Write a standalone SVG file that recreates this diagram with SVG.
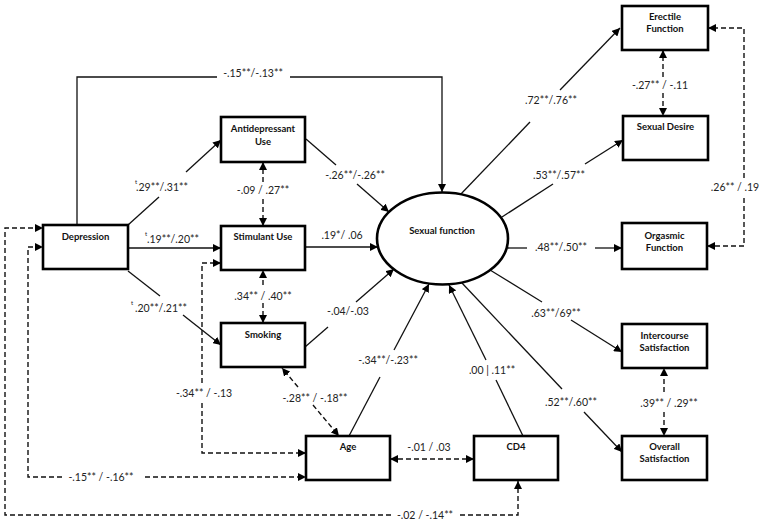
<svg xmlns="http://www.w3.org/2000/svg" width="761" height="525" viewBox="0 0 761 525">
<style>
.box{fill:#fff;stroke:#000;stroke-width:2.6}
.bl{font-family:Lato,"Liberation Sans",sans-serif;font-weight:bold;font-size:9.5px;fill:#111;text-anchor:middle}
.lb{font-family:Lato,"Liberation Sans",sans-serif;font-size:10.5px;fill:#222;text-anchor:middle}
.sup{font-family:Lato,"Liberation Sans",sans-serif;font-size:6px;fill:#222}
.s{fill:none;stroke:#111;stroke-width:1.3}
.d{fill:none;stroke:#111;stroke-width:1.4;stroke-dasharray:5 3}
</style>
<defs>
<marker id="a" viewBox="0 0 8 8" refX="8" refY="4" markerWidth="8" markerHeight="8" markerUnits="userSpaceOnUse" orient="auto-start-reverse">
<path d="M0,0 L8,4 L0,8 z" fill="#000"/>
</marker>
</defs>
<rect width="761" height="525" fill="#fff"/>
<g id="connectors">
<!-- solid paths -->
<path class="s" d="M77,225 V77 H217"/>
<path class="s" d="M290,77 H442 V192" marker-end="url(#a)"/>
<path class="s" d="M128,225 L159,197"/>
<path class="s" d="M186,172 L221,140" marker-end="url(#a)"/>
<path class="s" d="M128,248 H221" marker-end="url(#a)"/>
<path class="s" d="M128,271 L160,296"/>
<path class="s" d="M183,315 L221,345" marker-end="url(#a)"/>
<path class="s" d="M306,139 L336,165"/>
<path class="s" d="M357,184 L389,212" marker-end="url(#a)"/>
<path class="s" d="M305,247 H378" marker-end="url(#a)"/>
<path class="s" d="M305,347 L328,327"/>
<path class="s" d="M356,302 L394,269" marker-end="url(#a)"/>
<path class="s" d="M349,436 L380,377"/>
<path class="s" d="M394,350 L429,284" marker-end="url(#a)"/>
<path class="s" d="M523,436 L496,380"/>
<path class="s" d="M486,360 L449,285" marker-end="url(#a)"/>
<path class="s" d="M460,195 L530,122"/>
<path class="s" d="M560,90 L620,28" marker-end="url(#a)"/>
<path class="s" d="M502,217 L553,184"/>
<path class="s" d="M585,164 L623,140" marker-end="url(#a)"/>
<path class="s" d="M508,248 H527"/>
<path class="s" d="M595,248 H622" marker-end="url(#a)"/>
<path class="s" d="M490,270 L542,302"/>
<path class="s" d="M571,320 L622,352" marker-end="url(#a)"/>
<path class="s" d="M462,283 L562,389"/>
<path class="s" d="M584,412 L622,452" marker-end="url(#a)"/>
<!-- dashed paths -->
<path class="d" d="M263,182 V162" marker-end="url(#a)"/>
<path class="d" d="M263,199 V226" marker-end="url(#a)"/>
<path class="d" d="M263,285 V270" marker-end="url(#a)"/>
<path class="d" d="M263,303 V323" marker-end="url(#a)"/>
<path class="d" d="M298,387 L282,368" marker-end="url(#a)"/>
<path class="d" d="M313,405 L339,436" marker-end="url(#a)"/>
<path class="d" d="M202,383 V263 H221" marker-end="url(#a)"/>
<path class="d" d="M202,403 V453 H306" marker-end="url(#a)"/>
<path class="d" d="M62,477 H28 V247 H43" marker-end="url(#a)"/>
<path class="d" d="M145,477 H306" marker-end="url(#a)"/>
<path class="d" d="M391,515 H5 V228 H43" marker-end="url(#a)"/>
<path class="d" d="M460,515 H518 V481" marker-end="url(#a)"/>
<path class="d" d="M390,459 H474" marker-start="url(#a)" marker-end="url(#a)"/>
<path class="d" d="M663,77 V50" marker-end="url(#a)"/>
<path class="d" d="M663,93 V116" marker-end="url(#a)"/>
<path class="d" d="M744,178 V28 H708" marker-end="url(#a)"/>
<path class="d" d="M744,198 V246 H707" marker-end="url(#a)"/>
<path class="d" d="M664,392 V368" marker-end="url(#a)"/>
<path class="d" d="M664,412 V436" marker-end="url(#a)"/>
</g>
<g id="labels">
<text class="lb" x="253" y="77">-.15**/-.13**</text>
<text class="sup" x="135" y="184">t</text>
<text class="lb" x="162" y="191">.29**/.31**</text>
<text class="sup" x="145" y="236">t</text>
<text class="lb" x="173" y="243">.19**/.20**</text>
<text class="sup" x="131" y="305">t</text>
<text class="lb" x="161" y="312">.20**/.21**</text>
<text class="lb" x="355" y="179">-.26**/-.26**</text>
<text class="lb" x="263" y="194">-.09 / .27**</text>
<text class="lb" x="342" y="239">.19*/ .06</text>
<text class="lb" x="263" y="300">.34** / .40**</text>
<text class="lb" x="348" y="315">-.04/-.03</text>
<text class="lb" x="204" y="397">-.34** / -.13</text>
<text class="lb" x="315" y="402">-.28** / -.18**</text>
<text class="lb" x="388" y="364">-.34**/-.23**</text>
<text class="lb" x="492" y="374">.00 | .11**</text>
<text class="lb" x="429" y="451">-.01 / .03</text>
<text class="lb" x="101" y="481">-.15** / -.16**</text>
<text class="lb" x="425" y="519">-.02 / -.14**</text>
<text class="lb" x="551" y="104">.72**/.76**</text>
<text class="lb" x="559" y="179">.53**/.57**</text>
<text class="lb" x="561" y="251">.48**/.50**</text>
<text class="lb" x="556" y="317">.63**/69**</text>
<text class="lb" x="571" y="406">.52**/.60**</text>
<text class="lb" x="660" y="89">-.27** / -.11</text>
<text class="lb" x="735" y="191">.26** / .19</text>
<text class="lb" x="669" y="407">.39** / .29**</text>
</g>
<g id="depression"><rect class="box" x="43" y="225" width="85" height="44"/><text class="bl" x="85.5" y="240">Depression</text></g>
<g id="antidepressant"><rect class="box" x="221" y="117" width="84" height="45"/><text class="bl" x="263" y="132">Antidepressant</text><text class="bl" x="263" y="145">Use</text></g>
<g id="stimulant"><rect class="box" x="221" y="226" width="84" height="44"/><text class="bl" x="263" y="240">Stimulant Use</text></g>
<g id="smoking"><rect class="box" x="221" y="323" width="84" height="44"/><text class="bl" x="263" y="338">Smoking</text></g>
<g id="age"><rect class="box" x="306" y="436" width="84" height="44"/><text class="bl" x="348" y="450">Age</text></g>
<g id="cd4"><rect class="box" x="474" y="436" width="84" height="44"/><text class="bl" x="516" y="450">CD4</text></g>
<g id="sexual-function"><ellipse cx="442.5" cy="238.5" rx="65.5" ry="46" fill="#fff" stroke="#000" stroke-width="2.6"/><text class="bl" x="442" y="234">Sexual function</text></g>
<g id="erectile"><rect class="box" x="622" y="6" width="86" height="44"/><text class="bl" x="665" y="20">Erectile</text><text class="bl" x="665" y="32">Function</text></g>
<g id="desire"><rect class="box" x="623" y="116" width="85" height="44"/><text class="bl" x="665.5" y="130">Sexual Desire</text></g>
<g id="orgasmic"><rect class="box" x="622" y="223" width="85" height="46"/><text class="bl" x="664.5" y="239">Orgasmic</text><text class="bl" x="664.5" y="251">Function</text></g>
<g id="intercourse"><rect class="box" x="622" y="324" width="85" height="44"/><text class="bl" x="664.5" y="339">Intercourse</text><text class="bl" x="664.5" y="351">Satisfaction</text></g>
<g id="overall"><rect class="box" x="622" y="436" width="85" height="44"/><text class="bl" x="664.5" y="450">Overall</text><text class="bl" x="664.5" y="462">Satisfaction</text></g>
</svg>
